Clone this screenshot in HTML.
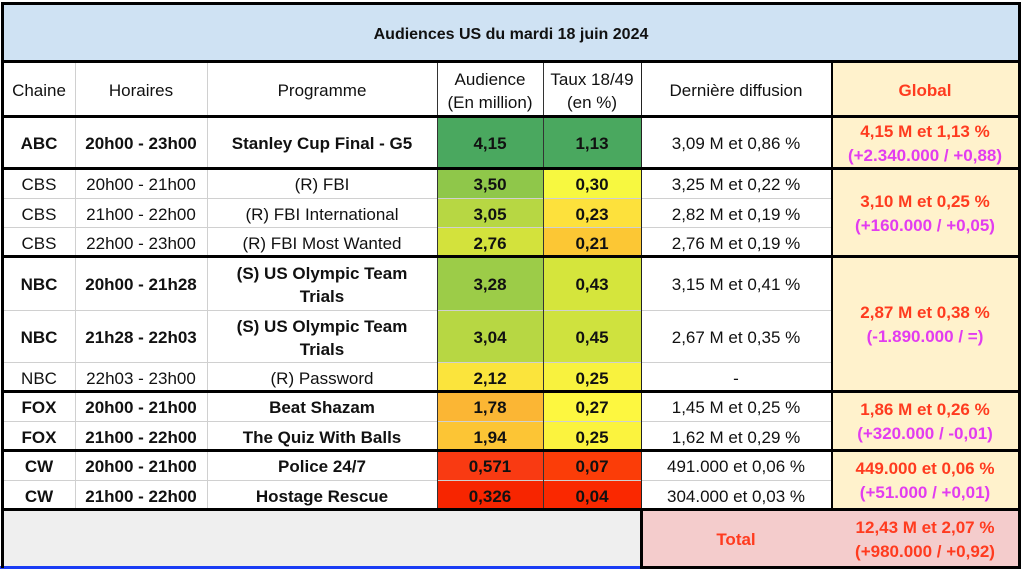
<!DOCTYPE html>
<html><head><meta charset="utf-8"><style>
body{margin:0;width:1022px;height:571px;background:#fff;position:relative;overflow:hidden;font-family:"Liberation Sans",Arial,sans-serif;font-size:17px;color:#111}
.c{position:absolute;display:flex;align-items:center;justify-content:center;text-align:center;box-sizing:border-box;line-height:23px;padding-top:3px}
.b{font-weight:bold}
.l{position:absolute;background:#000}
.g{position:absolute;background:#d0d0d0}
.r{color:#ff3b1f;font-weight:bold}
.m{color:#e23cf0;font-weight:bold}
.gl{line-height:24px}
</style></head><body>
<div class="c b" style="left:3px;top:4px;width:1016px;height:58px;background:#cfe2f3;font-size:16px">Audiences US du mardi 18 juin 2024</div>
<div class="c" style="left:3px;top:62px;width:72px;height:54px">Chaine</div>
<div class="c" style="left:75px;top:62px;width:132px;height:54px">Horaires</div>
<div class="c" style="left:207px;top:62px;width:230px;height:54px">Programme</div>
<div class="c" style="left:437px;top:62px;width:106px;height:54px">Audience<br>(En million)</div>
<div class="c" style="left:543px;top:62px;width:98px;height:54px">Taux 18/49<br>(en %)</div>
<div class="c" style="left:641px;top:62px;width:190px;height:54px">Dernière diffusion</div>
<div class="c r" style="left:831px;top:62px;width:188px;height:54px;background:#fff2cc">Global</div>

<div class="c b" style="left:3px;top:116px;width:72px;height:52px">ABC</div>
<div class="c b" style="left:75px;top:116px;width:132px;height:52px">20h00 - 23h00</div>
<div class="c b" style="left:207px;top:116px;width:230px;height:52px">Stanley Cup Final - G5</div>
<div class="c b" style="left:437px;top:116px;width:106px;height:52px;background:#4aa85f">4,15</div>
<div class="c b" style="left:543px;top:116px;width:98px;height:52px;background:#4aa85f">1,13</div>
<div class="c" style="left:641px;top:116px;width:190px;height:52px">3,09 M et 0,86 %</div>

<div class="c" style="left:3px;top:168px;width:72px;height:30px">CBS</div>
<div class="c" style="left:75px;top:168px;width:132px;height:30px">20h00 - 21h00</div>
<div class="c" style="left:207px;top:168px;width:230px;height:30px">(R) FBI</div>
<div class="c b" style="left:437px;top:168px;width:106px;height:30px;background:#8fc74a">3,50</div>
<div class="c b" style="left:543px;top:168px;width:98px;height:30px;background:#f7f840">0,30</div>
<div class="c" style="left:641px;top:168px;width:190px;height:30px">3,25 M et 0,22 %</div>

<div class="c" style="left:3px;top:198px;width:72px;height:29px">CBS</div>
<div class="c" style="left:75px;top:198px;width:132px;height:29px">21h00 - 22h00</div>
<div class="c" style="left:207px;top:198px;width:230px;height:29px">(R) FBI International</div>
<div class="c b" style="left:437px;top:198px;width:106px;height:29px;background:#b7d743">3,05</div>
<div class="c b" style="left:543px;top:198px;width:98px;height:29px;background:#fde13c">0,23</div>
<div class="c" style="left:641px;top:198px;width:190px;height:29px">2,82 M et 0,19 %</div>

<div class="c" style="left:3px;top:227px;width:72px;height:29px">CBS</div>
<div class="c" style="left:75px;top:227px;width:132px;height:29px">22h00 - 23h00</div>
<div class="c" style="left:207px;top:227px;width:230px;height:29px">(R) FBI Most Wanted</div>
<div class="c b" style="left:437px;top:227px;width:106px;height:29px;background:#d3e23c">2,76</div>
<div class="c b" style="left:543px;top:227px;width:98px;height:29px;background:#fcc734">0,21</div>
<div class="c" style="left:641px;top:227px;width:190px;height:29px">2,76 M et 0,19 %</div>

<div class="c b" style="left:3px;top:256px;width:72px;height:54px">NBC</div>
<div class="c b" style="left:75px;top:256px;width:132px;height:54px">20h00 - 21h28</div>
<div class="c b" style="left:207px;top:256px;width:230px;height:54px">(S) US Olympic Team<br>Trials</div>
<div class="c b" style="left:437px;top:256px;width:106px;height:54px;background:#9ccc48">3,28</div>
<div class="c b" style="left:543px;top:256px;width:98px;height:54px;background:#d5e53c">0,43</div>
<div class="c" style="left:641px;top:256px;width:190px;height:54px">3,15 M et 0,41 %</div>

<div class="c b" style="left:3px;top:310px;width:72px;height:52px">NBC</div>
<div class="c b" style="left:75px;top:310px;width:132px;height:52px">21h28 - 22h03</div>
<div class="c b" style="left:207px;top:310px;width:230px;height:52px">(S) US Olympic Team<br>Trials</div>
<div class="c b" style="left:437px;top:310px;width:106px;height:52px;background:#b7d743">3,04</div>
<div class="c b" style="left:543px;top:310px;width:98px;height:52px;background:#cfe23e">0,45</div>
<div class="c" style="left:641px;top:310px;width:190px;height:52px">2,67 M et 0,35 %</div>

<div class="c" style="left:3px;top:362px;width:72px;height:29px">NBC</div>
<div class="c" style="left:75px;top:362px;width:132px;height:29px">22h03 - 23h00</div>
<div class="c" style="left:207px;top:362px;width:230px;height:29px">(R) Password</div>
<div class="c b" style="left:437px;top:362px;width:106px;height:29px;background:#fbe43c">2,12</div>
<div class="c b" style="left:543px;top:362px;width:98px;height:29px;background:#f8f23e">0,25</div>
<div class="c" style="left:641px;top:362px;width:190px;height:29px">-</div>

<div class="c b" style="left:3px;top:391px;width:72px;height:30px">FOX</div>
<div class="c b" style="left:75px;top:391px;width:132px;height:30px">20h00 - 21h00</div>
<div class="c b" style="left:207px;top:391px;width:230px;height:30px">Beat Shazam</div>
<div class="c b" style="left:437px;top:391px;width:106px;height:30px;background:#fbb634">1,78</div>
<div class="c b" style="left:543px;top:391px;width:98px;height:30px;background:#fdf740">0,27</div>
<div class="c" style="left:641px;top:391px;width:190px;height:30px">1,45 M et 0,25 %</div>

<div class="c b" style="left:3px;top:421px;width:72px;height:29px">FOX</div>
<div class="c b" style="left:75px;top:421px;width:132px;height:29px">21h00 - 22h00</div>
<div class="c b" style="left:207px;top:421px;width:230px;height:29px">The Quiz With Balls</div>
<div class="c b" style="left:437px;top:421px;width:106px;height:29px;background:#fcc535">1,94</div>
<div class="c b" style="left:543px;top:421px;width:98px;height:29px;background:#fbf33e">0,25</div>
<div class="c" style="left:641px;top:421px;width:190px;height:29px">1,62 M et 0,29 %</div>

<div class="c b" style="left:3px;top:450px;width:72px;height:30px">CW</div>
<div class="c b" style="left:75px;top:450px;width:132px;height:30px">20h00 - 21h00</div>
<div class="c b" style="left:207px;top:450px;width:230px;height:30px">Police 24/7</div>
<div class="c b" style="left:437px;top:450px;width:106px;height:30px;background:#f93a12">0,571</div>
<div class="c b" style="left:543px;top:450px;width:98px;height:30px;background:#fb3d08">0,07</div>
<div class="c" style="left:641px;top:450px;width:190px;height:30px">491.000 et 0,06 %</div>

<div class="c b" style="left:3px;top:480px;width:72px;height:29px">CW</div>
<div class="c b" style="left:75px;top:480px;width:132px;height:29px">21h00 - 22h00</div>
<div class="c b" style="left:207px;top:480px;width:230px;height:29px">Hostage Rescue</div>
<div class="c b" style="left:437px;top:480px;width:106px;height:29px;background:#f72500">0,326</div>
<div class="c b" style="left:543px;top:480px;width:98px;height:29px;background:#fa2800">0,04</div>
<div class="c" style="left:641px;top:480px;width:190px;height:29px">304.000 et 0,03 %</div>

<div class="c gl" style="left:831px;top:116px;width:188px;height:52px;background:#fff2cc;flex-direction:column"><span class="r">4,15 M et 1,13 %</span><span class="m">(+2.340.000 / +0,88)</span></div>
<div class="c gl" style="left:831px;top:168px;width:188px;height:88px;background:#fff2cc;flex-direction:column"><span class="r">3,10 M et 0,25 %</span><span class="m">(+160.000 / +0,05)</span></div>
<div class="c gl" style="left:831px;top:256px;width:188px;height:135px;background:#fff2cc;flex-direction:column"><span class="r">2,87 M et 0,38 %</span><span class="m">(-1.890.000 / =)</span></div>
<div class="c gl" style="left:831px;top:391px;width:188px;height:59px;background:#fff2cc;flex-direction:column"><span class="r">1,86 M et 0,26 %</span><span class="m">(+320.000 / -0,01)</span></div>
<div class="c gl" style="left:831px;top:450px;width:188px;height:59px;background:#fff2cc;flex-direction:column"><span class="r">449.000 et 0,06 %</span><span class="m">(+51.000 / +0,01)</span></div>

<div class="c" style="left:3px;top:509px;width:638px;height:58px;background:#efefef"></div>
<div class="c r" style="left:641px;top:509px;width:190px;height:58px;background:#f4cccc">Total</div>
<div class="c r gl" style="left:831px;top:509px;width:188px;height:58px;background:#f4cccc;flex-direction:column"><span>12,43 M et 2,07 %</span><span>(+980.000 / +0,92)</span></div>
<div style="position:absolute;left:0;top:566px;width:641px;height:3px;background:#1a3cf5"></div>

<div class="g" style="left:75px;top:62px;width:1px;height:447px"></div>
<div class="g" style="left:207px;top:62px;width:1px;height:447px"></div>
<div class="g" style="left:3px;top:198px;width:828px;height:1px"></div>
<div class="g" style="left:3px;top:227px;width:828px;height:1px"></div>
<div class="g" style="left:3px;top:310px;width:828px;height:1px"></div>
<div class="g" style="left:3px;top:362px;width:828px;height:1px"></div>
<div class="g" style="left:3px;top:421px;width:828px;height:1px"></div>
<div class="g" style="left:3px;top:480px;width:828px;height:1px"></div>
<div class="l" style="left:437px;top:62px;width:1px;height:447px;background:#333"></div>
<div class="l" style="left:543px;top:62px;width:1px;height:447px;background:#333"></div>
<div class="l" style="left:641px;top:62px;width:1px;height:505px;background:#222"></div>
<div class="l" style="left:831px;top:62px;width:2px;height:447px"></div>
<div class="l" style="left:640px;top:509px;width:3px;height:60px"></div>
<div class="l" style="left:1px;top:2px;width:1020px;height:3px"></div>
<div class="l" style="left:1px;top:60px;width:1020px;height:3px"></div>
<div class="l" style="left:1px;top:115px;width:1020px;height:3px"></div>
<div class="l" style="left:1px;top:167px;width:1020px;height:3px"></div>
<div class="l" style="left:1px;top:255px;width:1020px;height:3px"></div>
<div class="l" style="left:1px;top:390px;width:1020px;height:3px"></div>
<div class="l" style="left:1px;top:449px;width:1020px;height:3px"></div>
<div class="l" style="left:1px;top:508px;width:1020px;height:3px"></div>
<div class="l" style="left:640px;top:566px;width:381px;height:3px"></div>
<div class="l" style="left:1px;top:2px;width:3px;height:566px"></div>
<div class="l" style="left:1018px;top:2px;width:3px;height:567px"></div>
</body></html>
